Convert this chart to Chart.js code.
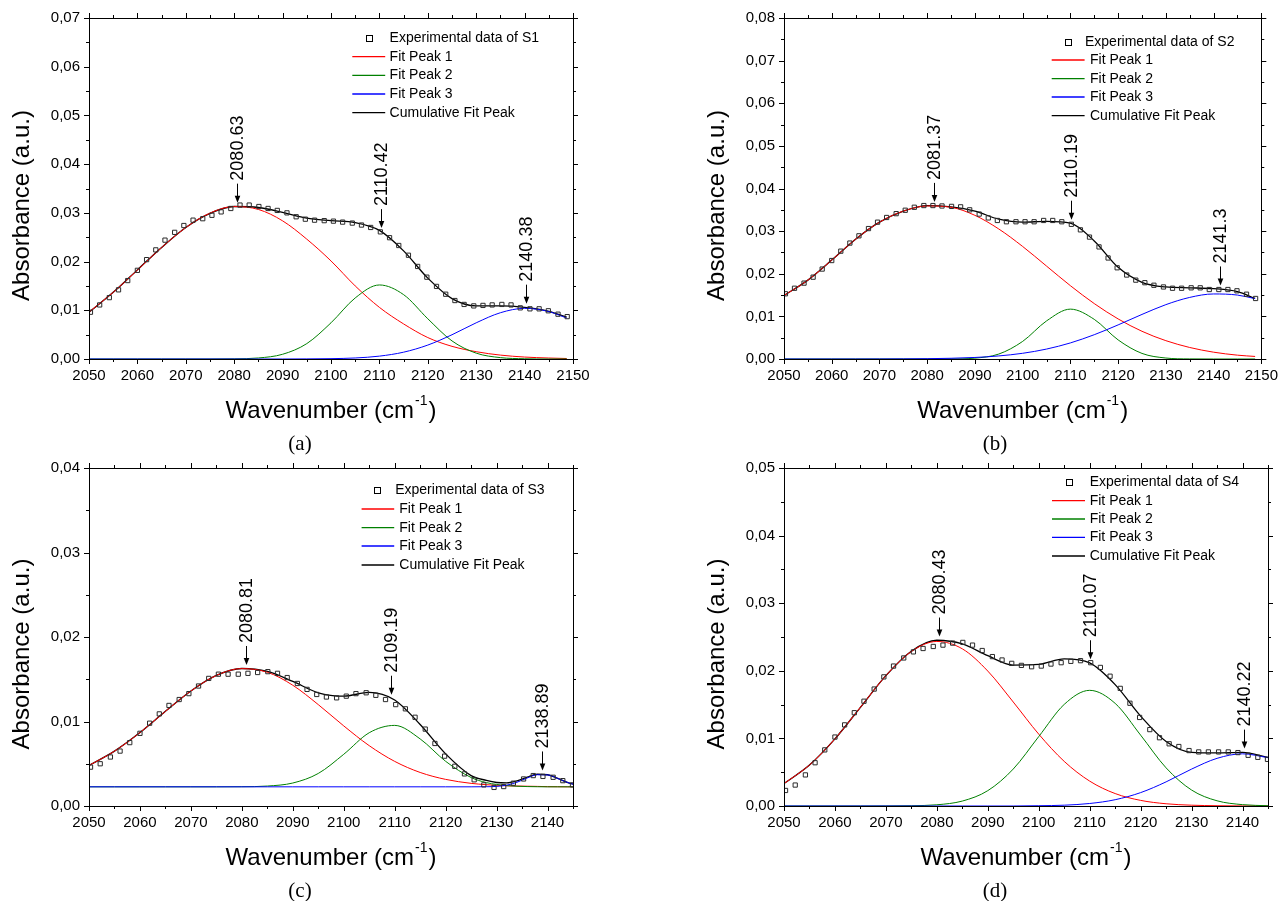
<!DOCTYPE html>
<html>
<head>
<meta charset="utf-8">
<script src="https://cdn.jsdelivr.net/npm/chart.js@4.4.1/dist/chart.umd.min.js"></script>
<style>
  body { margin: 0; background: #fff; }
  #page { position: relative; width: 1286px; height: 901px; overflow: hidden; background: #fff; }
  canvas { position: absolute; }
  .cap { position: absolute; font: 21px "Liberation Serif", "Times New Roman", serif; color: #000; transform: translate(-50%, -50%); }
</style>
</head>
<body>
<div id="page">
  <canvas id="chartA" width="643" height="450" style="left:0;top:0"></canvas>
  <canvas id="chartB" width="643" height="450" style="left:643px;top:0"></canvas>
  <canvas id="chartC" width="643" height="451" style="left:0;top:450px"></canvas>
  <canvas id="chartD" width="643" height="451" style="left:643px;top:450px"></canvas>
  <div class="cap" style="left:300px;top:443px">(a)</div>
  <div class="cap" style="left:995px;top:443px">(b)</div>
  <div class="cap" style="left:300px;top:890px">(c)</div>
  <div class="cap" style="left:995px;top:890px">(d)</div>
</div>
<script>
// wavenumbers of the measured points (same grid for all samples)
const expX = [2050.3, 2052.2, 2054.2, 2056.1, 2058.0, 2060.0, 2061.9, 2063.8, 2065.7, 2067.7,
  2069.6, 2071.5, 2073.5, 2075.4, 2077.3, 2079.3, 2081.2, 2083.1, 2085.1, 2087.0,
  2088.9, 2090.9, 2092.8, 2094.7, 2096.6, 2098.6, 2100.5, 2102.4, 2104.4, 2106.3,
  2108.2, 2110.2, 2112.1, 2114.0, 2116.0, 2117.9, 2119.8, 2121.8, 2123.7, 2125.6,
  2127.5, 2129.5, 2131.4, 2133.3, 2135.3, 2137.2, 2139.1, 2141.1, 2143.0, 2144.9,
  2146.9, 2148.8];

const expA = [0.0096, 0.0111, 0.0126, 0.0142, 0.0161, 0.0182, 0.0204, 0.0224, 0.0244, 0.0260,
  0.0274, 0.0285, 0.0288, 0.0295, 0.0302, 0.0309, 0.0316, 0.0316, 0.0313, 0.0309,
  0.0305, 0.0300, 0.0292, 0.0287, 0.0285, 0.0284, 0.0283, 0.0281, 0.0279, 0.0275,
  0.0270, 0.0261, 0.0249, 0.0233, 0.0213, 0.0190, 0.0168, 0.0149, 0.0133, 0.0120,
  0.0112, 0.0109, 0.0110, 0.0111, 0.0112, 0.0111, 0.0105, 0.0103, 0.0103, 0.0099,
  0.0092, 0.0087];
const expB = [0.0153, 0.0166, 0.0178, 0.0192, 0.0211, 0.0231, 0.0253, 0.0272, 0.0289, 0.0306,
  0.0321, 0.0332, 0.0341, 0.0349, 0.0356, 0.0360, 0.0360, 0.0359, 0.0358, 0.0357,
  0.0350, 0.0340, 0.0331, 0.0325, 0.0322, 0.0322, 0.0322, 0.0322, 0.0325, 0.0325,
  0.0322, 0.0316, 0.0303, 0.0286, 0.0263, 0.0237, 0.0214, 0.0197, 0.0185, 0.0179,
  0.0173, 0.0169, 0.0166, 0.0166, 0.0167, 0.0167, 0.0163, 0.0163, 0.0163, 0.0160,
  0.0152, 0.0142];
const expC = [0.0046, 0.0050, 0.0058, 0.0065, 0.0075, 0.0086, 0.0098, 0.0109, 0.0119, 0.0126,
  0.0133, 0.0142, 0.0151, 0.0156, 0.0156, 0.0156, 0.0157, 0.0158, 0.0159, 0.0157,
  0.0152, 0.0145, 0.0138, 0.0132, 0.0129, 0.0128, 0.0130, 0.0133, 0.0134, 0.0131,
  0.0126, 0.0120, 0.0115, 0.0105, 0.0091, 0.0074, 0.0059, 0.0047, 0.0038, 0.0031,
  0.0025, 0.0022, 0.0023, 0.0027, 0.0032, 0.0036, 0.0035, 0.0034, 0.0030, 0.0025];
const expD = [0.0023, 0.0031, 0.0046, 0.0064, 0.0083, 0.0102, 0.0120, 0.0138, 0.0155, 0.0173,
  0.0191, 0.0207, 0.0219, 0.0228, 0.0233, 0.0236, 0.0238, 0.0241, 0.0242, 0.0238,
  0.0230, 0.0221, 0.0216, 0.0211, 0.0208, 0.0206, 0.0207, 0.0210, 0.0212, 0.0214,
  0.0215, 0.0212, 0.0205, 0.0192, 0.0174, 0.0152, 0.0131, 0.0113, 0.0101, 0.0092,
  0.0088, 0.0082, 0.0080, 0.0080, 0.0080, 0.0080, 0.0079, 0.0075, 0.0072, 0.0069];

// fitted curves
const fitXab = [2050, 2055, 2060, 2065, 2070, 2075, 2080, 2085, 2090, 2095, 2100, 2105, 2110,
  2115, 2120, 2125, 2130, 2135, 2140, 2145, 2148.7];
const redA = [0.00964, 0.01368, 0.01825, 0.02288, 0.02698, 0.02995, 0.0313, 0.0307, 0.02836, 0.0246,
  0.02013, 0.0150, 0.0106, 0.0072, 0.0044, 0.0026, 0.0015, 0.0008, 0.0004, 0.0002, 0.0001];
const greenA = [0, 0, 0, 0, 0, 0, 0.00003, 0.00021, 0.00097, 0.00316, 0.00743, 0.01253, 0.0152,
  0.01321, 0.00826, 0.00371, 0.0012, 0.00028, 0.00005, 0, 0];
const blueA = [0, 0, 0, 0, 0, 0, 0, 0, 0, 0.00002, 0.00007, 0.00021, 0.00059, 0.0014, 0.00286,
  0.00498, 0.00743, 0.0095, 0.0104, 0.00974, 0.0084];
const cumA = [0.0096, 0.0137, 0.0183, 0.0229, 0.0270, 0.0299, 0.0313, 0.0311, 0.0301, 0.0289,
  0.0284, 0.0280, 0.0264, 0.0222, 0.0166, 0.0124, 0.0109, 0.0109, 0.0106, 0.0098, 0.0086];

const redB = [0.0149, 0.0185, 0.0232, 0.0281, 0.0321, 0.0347, 0.0359, 0.0356, 0.0337, 0.0305,
  0.0264, 0.0218, 0.0172, 0.0130, 0.0094, 0.0065, 0.0043, 0.0027, 0.0016, 0.0009, 0.0006];
const greenB = [0, 0, 0, 0, 0, 0, 0, 0.00002, 0.0002, 0.00116, 0.00413, 0.00893, 0.0117, 0.0093,
  0.00448, 0.00131, 0.00023, 0.00002, 0, 0, 0];
const blueB = [0, 0, 0, 0, 0.00001, 0.00003, 0.00007, 0.00017, 0.00036, 0.00072, 0.00134, 0.00233,
  0.00377, 0.0057, 0.0080, 0.01046, 0.01275, 0.01445, 0.01526, 0.0150, 0.01415];
const cumB = [0.0149, 0.0185, 0.0232, 0.0281, 0.0321, 0.0347, 0.0360, 0.0357, 0.0347, 0.0328,
  0.0321, 0.0323, 0.0319, 0.0277, 0.0215, 0.0180, 0.0169, 0.0167, 0.0165, 0.0158, 0.0142];

const fitXc = [2050, 2055, 2060, 2065, 2070, 2075, 2080, 2085, 2090, 2095, 2100, 2105, 2110,
  2115, 2120, 2125, 2128, 2130, 2132, 2134, 2136, 2138, 2140, 2142, 2144, 2145];
const redC = [0.0048, 0.00649, 0.00869, 0.0112, 0.01361, 0.01545, 0.01626, 0.01583, 0.01429, 0.0120,
  0.00948, 0.00714, 0.00528, 0.00397, 0.00315, 0.00268, 0.00252, 0.00245, 0.00239, 0.00236,
  0.00234, 0.00232, 0.00229, 0.00228, 0.00227, 0.00227];
const greenC = [0.00227, 0.00227, 0.00227, 0.00227, 0.00227, 0.00227, 0.00228, 0.00236, 0.00272,
  0.00385, 0.00612, 0.00867, 0.00954, 0.00794, 0.00529, 0.00337, 0.00277, 0.00255, 0.00241,
  0.00234, 0.0023, 0.00228, 0.00227, 0.00227, 0.00227, 0.00227];
const blueC = [0.00227, 0.00227, 0.00227, 0.00227, 0.00227, 0.00227, 0.00227, 0.00227, 0.00227,
  0.00227, 0.00227, 0.00227, 0.00227, 0.00227, 0.00227, 0.00227, 0.00228, 0.00232, 0.00247,
  0.00281, 0.00331, 0.0037, 0.00368, 0.00326, 0.00277, 0.00258];
const cumC = [0.0048, 0.00649, 0.00869, 0.0112, 0.01361, 0.01545, 0.01627, 0.01592, 0.01474, 0.0134,
  0.0130, 0.01345, 0.01255, 0.00964, 0.00617, 0.0036, 0.00303, 0.00278, 0.00273, 0.00297,
  0.00341, 0.00376, 0.0037, 0.00327, 0.00277, 0.00258];

const fitXd = [2050, 2055, 2060, 2065, 2070, 2075, 2080, 2085, 2090, 2095, 2100, 2105, 2110,
  2115, 2120, 2125, 2130, 2135, 2140, 2145];
const redD = [0.00332, 0.00606, 0.00993, 0.0146, 0.01928, 0.02286, 0.02434, 0.02325, 0.01996, 0.01538,
  0.01063, 0.0066, 0.00368, 0.00184, 0.00083, 0.00033, 0.00012, 0.00004, 0.00001, 0];
const greenD = [0, 0, 0, 0, 0.00001, 0.00004, 0.00018, 0.00073, 0.00227, 0.00547, 0.01027, 0.01503,
  0.01711, 0.01518, 0.01048, 0.00564, 0.00236, 0.00077, 0.0002, 0.00004];
const blueD = [0, 0, 0, 0, 0, 0, 0, 0, 0, 0, 0.00004, 0.00012, 0.00037, 0.00093, 0.00198, 0.00357,
  0.00546, 0.00705, 0.00772, 0.00715];
const cumD = [0.00332, 0.00606, 0.00993, 0.0146, 0.01929, 0.0229, 0.02452, 0.02398, 0.02223, 0.02085,
  0.02094, 0.02175, 0.02116, 0.01795, 0.01329, 0.00954, 0.00794, 0.00786, 0.00793, 0.00719];

// peak position labels
const peaksA = ['2080.63', '2110.42', '2140.38'];
const peaksB = ['2081.37', '2110.19', '2141.3'];
const peaksC = ['2080.81', '2109.19', '2138.89'];
const peaksD = ['2080.43', '2110.07', '2140.22'];

const FONT = '"Liberation Sans", Arial, sans-serif';
const RED = '#ff0000', GREEN = '#008000', BLUE = '#0000ff';

const panels = [
  { id: 'chartA', w: 643, h: 450, plot: { l: 89, r: 573, t: 18, b: 359 }, xMax: 2150, yMax: 0.07,
    expX: expX, exp: expA, fitX: fitXab, red: redA, green: greenA, blue: blueA, cum: cumA,
    sample: 'S1', peaks: peaksA,
    legend: { rows: [37.7, 56.7, 75.3, 94, 112.7], marker: 368.8, line: [352.3, 385.2], textExp: 389.6, textFit: 389.6 } },
  { id: 'chartB', w: 643, h: 450, plot: { l: 141, r: 625, t: 18, b: 359 }, xMax: 2150, yMax: 0.08,
    expX: expX, exp: expB, fitX: fitXab, red: redB, green: greenB, blue: blueB, cum: cumB,
    sample: 'S2', peaks: peaksB,
    legend: { rows: [42, 60, 78.7, 97, 115.7], marker: 425, line: [408.7, 441.6], textExp: 442, textFit: 447 } },
  { id: 'chartC', w: 643, h: 451, plot: { l: 89, r: 573, t: 15, b: 356 }, xMax: 2145, yMax: 0.04,
    expX: expX.slice(0, expC.length), exp: expC, fitX: fitXc, red: redC, green: greenC, blue: blueC, cum: cumC,
    sample: 'S3', peaks: peaksC,
    legend: { rows: [40, 59, 77.7, 96, 115], marker: 376.9, line: [361.6, 394.2], textExp: 395.2, textFit: 399.3 } },
  { id: 'chartD', w: 643, h: 451, plot: { l: 141, r: 625, t: 15, b: 356 }, xMax: 2145, yMax: 0.05,
    expX: expX.slice(0, expD.length), exp: expD, fitX: fitXd, red: redD, green: greenD, blue: blueD, cum: cumD,
    sample: 'S4', peaks: peaksD,
    legend: { rows: [32, 50.7, 69, 87.3, 106], marker: 425.8, line: [409, 442], textExp: 446.7, textFit: 446.7 } }
];

function pts(xs, ys) {
  return ys.map((y, i) => ({ x: xs[i], y: y }));
}

function interp(xs, ys, v) {
  for (let i = 1; i < xs.length; i++) {
    if (v <= xs[i]) {
      const t = (v - xs[i - 1]) / (xs[i] - xs[i - 1]);
      return ys[i - 1] + t * (ys[i] - ys[i - 1]);
    }
  }
  return ys[ys.length - 1];
}

function curve(xs, ys, color, width) {
  return {
    data: pts(xs, ys),
    showLine: true,
    borderColor: color,
    borderWidth: width || 1,
    pointRadius: 0,
    fill: false,
    cubicInterpolationMode: 'monotone'
  };
}

function decor(p) {
  return {
    id: 'decor',
    afterDraw(chart) {
      const { ctx, chartArea: a, scales: { x, y } } = chart;
      ctx.save();
      ctx.strokeStyle = '#000';
      ctx.fillStyle = '#000';
      ctx.lineWidth = 1;

      // frame + ticks on all four sides
      ctx.strokeRect(Math.round(a.left) + 0.5, Math.round(a.top) + 0.5,
        Math.round(a.right - a.left), Math.round(a.bottom - a.top));
      ctx.beginPath();
      for (let i = 0; 2050 + i * 5 <= p.xMax + 0.01; i++) {
        const px = Math.round(x.getPixelForValue(2050 + i * 5)) + 0.5;
        const len = i % 2 === 0 ? 5 : 3;
        ctx.moveTo(px, a.bottom); ctx.lineTo(px, a.bottom + len);
        ctx.moveTo(px, a.top); ctx.lineTo(px, a.top - len);
      }
      for (let i = 0; i * 0.005 <= p.yMax + 1e-9; i++) {
        const py = Math.round(y.getPixelForValue(i * 0.005)) + 0.5;
        const len = i % 2 === 0 ? 5 : 3;
        ctx.moveTo(a.left, py); ctx.lineTo(a.left - len, py);
        ctx.moveTo(a.right, py); ctx.lineTo(a.right + len, py);
      }
      ctx.stroke();

      // axis titles
      ctx.textAlign = 'center';
      ctx.textBaseline = 'middle';
      ctx.font = '24px ' + FONT;
      ctx.save();
      ctx.translate(a.left - 67, (a.top + a.bottom) / 2 + 17);
      ctx.rotate(-Math.PI / 2);
      ctx.fillText('Absorbance (a.u.)', 0, 0);
      ctx.restore();

      const main = 'Wavenumber (cm', sup = '-1', close = ')';
      const w1 = ctx.measureText(main).width;
      const w3 = ctx.measureText(close).width;
      ctx.font = '14px ' + FONT;
      const w2 = ctx.measureText(sup).width + 2;
      let tx = (a.left + a.right) / 2 - (w1 + w2 + w3) / 2;
      const ty = a.bottom + 52;
      ctx.textAlign = 'left';
      ctx.font = '24px ' + FONT;
      ctx.fillText(main, tx, ty);
      ctx.font = '14px ' + FONT;
      ctx.fillText(sup, tx + w1 + 1, ty - 10);
      ctx.font = '24px ' + FONT;
      ctx.fillText(close, tx + w1 + w2, ty);

      // legend
      const lg = p.legend;
      const names = ['Experimental data of ' + p.sample, 'Fit Peak 1', 'Fit Peak 2', 'Fit Peak 3', 'Cumulative Fit Peak'];
      const colors = [null, RED, GREEN, BLUE, '#000'];
      ctx.font = '14px ' + FONT;
      ctx.textBaseline = 'middle';
      names.forEach((name, i) => {
        const ry = lg.rows[i];
        if (i === 0) {
          ctx.strokeStyle = '#000';
          ctx.lineWidth = 1;
          ctx.strokeRect(Math.round(lg.marker - 3) + 0.5, Math.round(ry - 3) + 0.5, 6, 6);
          ctx.fillText(name, lg.textExp, ry);
        } else {
          ctx.strokeStyle = colors[i];
          ctx.lineWidth = 1.3;
          ctx.beginPath();
          ctx.moveTo(lg.line[0], ry); ctx.lineTo(lg.line[1], ry);
          ctx.stroke();
          ctx.fillText(name, lg.textFit, ry);
        }
      });

      // peak labels with arrows
      ctx.strokeStyle = '#000';
      ctx.lineWidth = 1;
      ctx.font = '18px ' + FONT;
      p.peaks.forEach(label => {
        const v = parseFloat(label);
        const px = Math.round(x.getPixelForValue(v)) + 0.5;
        const tip = y.getPixelForValue(interp(p.fitX, p.cum, v)) - 4;
        const top = tip - 19;
        ctx.beginPath();
        ctx.moveTo(px, top); ctx.lineTo(px, tip - 6);
        ctx.stroke();
        ctx.beginPath();
        ctx.moveTo(px - 2.8, tip - 7); ctx.lineTo(px + 2.8, tip - 7); ctx.lineTo(px, tip);
        ctx.closePath();
        ctx.fill();
        ctx.save();
        ctx.translate(px + 1, top - 3);
        ctx.rotate(-Math.PI / 2);
        ctx.textAlign = 'left';
        ctx.textBaseline = 'middle';
        ctx.fillText(label, 0, 0);
        ctx.restore();
      });
      ctx.restore();
    }
  };
}

panels.forEach(p => {
  const ctx = document.getElementById(p.id).getContext('2d');
  new Chart(ctx, {
    type: 'scatter',
    data: {
      datasets: [
        {
          data: pts(p.expX, p.exp),
          showLine: false,
          pointStyle: 'rect',
          pointRadius: 3,
          borderWidth: 1,
          borderColor: '#2a2a2a',
          backgroundColor: 'rgba(0,0,0,0)'
        },
        curve(p.fitX, p.blue, BLUE),
        curve(p.fitX, p.green, GREEN),
        curve(p.fitX, p.red, RED),
        curve(p.fitX, p.cum, '#000', 1.3)
      ]
    },
    options: {
      responsive: false,
      animation: false,
      events: [],
      devicePixelRatio: 1,
      layout: { padding: { left: 0, top: p.plot.t, right: p.w - p.plot.r, bottom: 0 } },
      plugins: { legend: { display: false }, tooltip: { enabled: false } },
      scales: {
        x: {
          type: 'linear',
          min: 2050,
          max: p.xMax,
          grid: { display: false, drawTicks: false },
          border: { display: false },
          ticks: {
            stepSize: 10,
            includeBounds: false,
            autoSkip: false,
            maxRotation: 0,
            padding: 8,
            color: '#000',
            font: { family: FONT, size: 15 },
            callback: v => String(Math.round(v))
          },
          afterFit: s => { s.height = p.h - p.plot.b; }
        },
        y: {
          type: 'linear',
          min: 0,
          max: p.yMax,
          grid: { display: false, drawTicks: false },
          border: { display: false },
          ticks: {
            stepSize: 0.01,
            autoSkip: false,
            padding: 9,
            color: '#000',
            font: { family: FONT, size: 15 },
            callback: v => v.toFixed(2).replace('.', ',')
          },
          afterFit: s => { s.width = p.plot.l; }
        }
      }
    },
    plugins: [decor(p)]
  });
});
</script>
</body>
</html>
